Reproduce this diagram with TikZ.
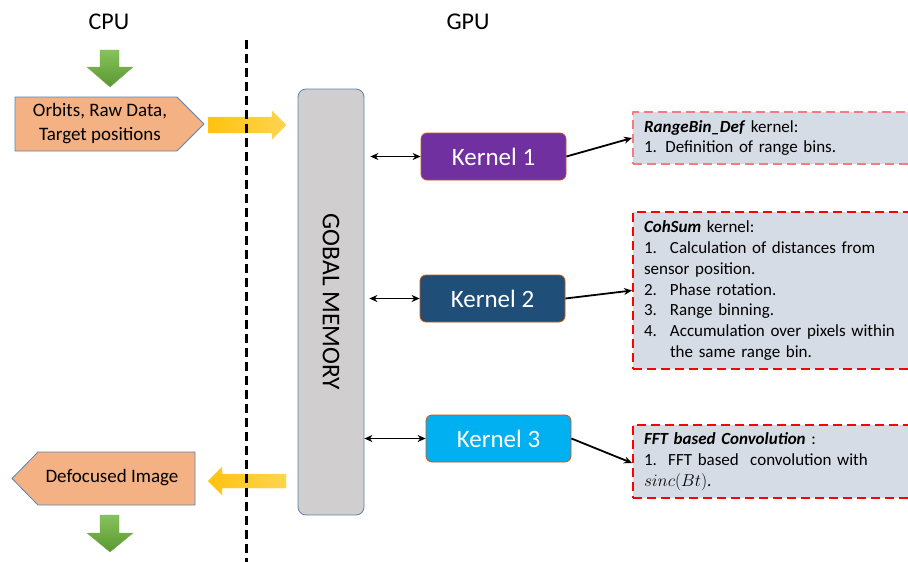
\documentclass[tikz,border=0pt]{standalone}
\usepackage{fontspec}
\setmainfont{Carlito}
\usetikzlibrary{arrows.meta}
\definecolor{kernelone}{HTML}{7030A0}
\definecolor{kerneltwo}{HTML}{1F4E79}
\definecolor{kernelthree}{HTML}{00B0F0}
\definecolor{kerneledge}{HTML}{C55A11}
\definecolor{memfill}{HTML}{D0CECE}
\definecolor{memedge}{HTML}{5B84B1}
\definecolor{hostfill}{HTML}{F4B183}
\definecolor{descfill}{HTML}{D6DCE5}
\definecolor{descpink}{HTML}{F47C80}
\definecolor{descred}{HTML}{FF0000}
\definecolor{greenlight}{HTML}{86C45A}
\definecolor{greendark}{HTML}{5A9632}
\definecolor{goldleft}{HTML}{FFC20E}
\definecolor{goldmid}{HTML}{FFFBEE}
\definecolor{goldright}{HTML}{FFD54F}
\newcommand{\itm}[2]{\makebox[26pt][l]{#1}#2}
\begin{document}
\begin{tikzpicture}[x=1pt,y=-1pt, line join=round, >={Stealth[length=8pt,width=7pt]},
    title/.style={font=\fontsize{24}{28}\selectfont},
    kernel/.style={draw=kerneledge, line width=0.8pt, rounded corners=6pt, minimum width=145pt,
      minimum height=47pt, text=white, font=\fontsize{25}{30}\selectfont},
    desc/.style={fill=descfill, line width=2pt, dash pattern=on 9pt off 5pt, anchor=west,
      text width=270pt, inner xsep=11pt, align=left, font=\fontsize{17}{20.7}\selectfont},
    hostbox/.style={fill=hostfill, draw=memedge, line width=0.8pt},
    hosttext/.style={align=center, font=\fontsize{19}{24}\selectfont},
    greenarrow/.style={top color=greenlight, bottom color=greendark, draw=greendark!80, line width=0.4pt},
    goldarrow/.style={left color=goldleft, middle color=goldmid, right color=goldright, draw=goldright, line width=0.4pt},
    link/.style={->, line width=1.8pt},
    dlink/.style={<->, line width=1.8pt}]
  \useasboundingbox (0,0) rectangle (908,562);
  \node[title] (cpu) at (109,22) {CPU};
  \node[title] (gpu) at (468,22) {GPU};
  % host side
  \draw[greenarrow] (100,50) -- (119,50) -- (119,67) -- (133,67) -- (110,87) -- (87,67) -- (100,67) -- cycle;
  \draw[hostbox] (15,97) -- (177,97) -- (204,124) -- (177,151) -- (15,151) -- cycle;
  \node[hosttext] (input) at (100,124) {Orbits, Raw Data,\\Target positions};
  \draw[goldarrow] (208,117) -- (272,117) -- (272,111) -- (286,125) -- (272,139) -- (272,133) -- (208,133) -- cycle;
  \draw[hostbox] (12,478.5) -- (38,452) -- (195,452) -- (195,505) -- (38,505) -- cycle;
  \node[hosttext] (output) at (112,478) {Defocused Image};
  \draw[goldarrow] (286,474) -- (222,474) -- (222,467) -- (208,481) -- (222,495) -- (222,488) -- (286,488) -- cycle;
  \draw[greenarrow] (100,515) -- (119,515) -- (119,533) -- (133,533) -- (110,552) -- (87,533) -- (100,533) -- cycle;
  \draw[line width=3pt, dash pattern=on 9pt off 5pt] (246,40) -- (246,562);
  % device side
  \node[fill=memfill, draw=memedge, line width=0.8pt, rounded corners=8pt, minimum width=66pt,
    minimum height=426pt] (mem) at (331,302) {};
  \node[rotate=-90, font=\fontsize{25.5}{30}\selectfont] (memtext) at (mem) {GOBAL MEMORY};
  \node[kernel, fill=kernelone] (k1) at (493.5,156.5) {Kernel 1};
  \node[kernel, fill=kerneltwo] (k2) at (492.5,298.5) {Kernel 2};
  \node[kernel, fill=kernelthree] (k3) at (498.5,438.5) {Kernel 3};
  \draw[dlink, shorten <=6pt] (mem.east |- k1.west) -- (k1.west);
  \draw[dlink, shorten <=5pt] (mem.east |- k2.west) -- (k2.west);
  \draw[dlink] (mem.east |- k3.west) -- (k3.west);
  \node[desc, draw=descpink, minimum height=52pt] (d1) at (632,138)
    {\textbf{\textit{RangeBin\_Def}} kernel:\\1. Definition of range bins.};
  \node[desc, draw=descred, minimum height=157pt] (d2) at (632,290.5)
    {\textbf{\textit{CohSum}} kernel:\\
     \itm{1.}{Calculation of distances from}\\
     sensor position.\\
     \itm{2.}{Phase rotation.}\\
     \itm{3.}{Range binning.}\\
     \itm{4.}{Accumulation over pixels within}\\
     \itm{}{the same range bin.}};
  \node[desc, draw=descred, minimum height=73pt] (d3) at (632,461.5)
    {\textbf{\textit{FFT based Convolution}} :\\
     1.\ \ FFT based\ \ convolution with\\
     $sinc(Bt)$.};
  \draw[link] (k1.east) -- (d1.west);
  \draw[link] (k2.east) -- (d2.west);
  \draw[link] (k3.east) -- ([yshift=-1.5pt]d3.west);
\end{tikzpicture}
\end{document}
